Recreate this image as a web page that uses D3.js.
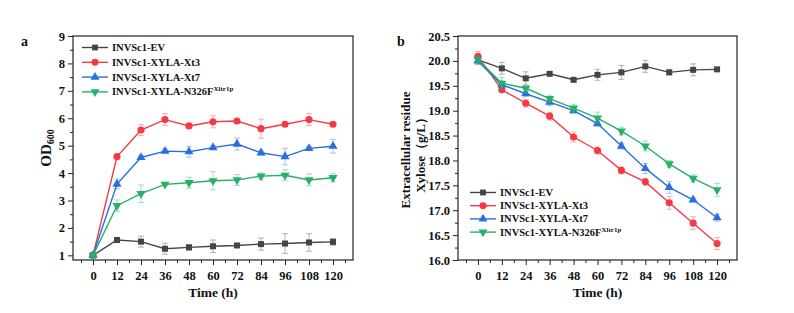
<!DOCTYPE html>
<html>
<head>
<meta charset="utf-8">
<script src="https://cdn.jsdelivr.net/npm/d3@7"></script>
<style>
  body { margin: 0; background: #fff; }
  svg text { font-family: "Times New Roman", "Liberation Serif", serif; font-weight: bold; fill: #111; }
</style>
</head>
<body>
<svg id="chart" width="794" height="313"></svg>
<script>
// time points (h)
let hours = [0, 12, 24, 36, 48, 60, 72, 84, 96, 108, 120];
let xTicks = [0, 12, 24, 36, 48, 60, 72, 84, 96, 108, 120];

let seriesNames = ['INVSc1-EV', 'INVSc1-XYLA-Xt3', 'INVSc1-XYLA-Xt7', 'INVSc1-XYLA-N326F'];
let seriesColors = ['#454545', '#f43b45', '#2a6fe0', '#27b06a'];
let seriesShapes = ['square', 'circle', 'triangle', 'triangleDown'];

// panel a: OD600
let odEV = [1.0, 1.56, 1.50, 1.24, 1.29, 1.33, 1.36, 1.41, 1.43, 1.47, 1.49];
let odEVErr = [0.04, 0.05, 0.2, 0.2, 0.1, 0.23, 0.07, 0.22, 0.36, 0.32, 0.12];
let odXt3 = [1.0, 4.60, 5.57, 5.95, 5.72, 5.87, 5.90, 5.62, 5.78, 5.95, 5.78];
let odXt3Err = [0.04, 0.05, 0.2, 0.22, 0.07, 0.22, 0.05, 0.35, 0.08, 0.22, 0.07];
let odXt7 = [1.0, 3.60, 4.57, 4.80, 4.78, 4.93, 5.06, 4.74, 4.60, 4.90, 4.98];
let odXt7Err = [0.04, 0.18, 0.07, 0.08, 0.2, 0.07, 0.22, 0.08, 0.3, 0.07, 0.25];
let odN326F = [1.0, 2.81, 3.25, 3.59, 3.65, 3.72, 3.75, 3.89, 3.92, 3.75, 3.83];
let odN326FErr = [0.04, 0.21, 0.32, 0.05, 0.2, 0.33, 0.2, 0.12, 0.2, 0.22, 0.15];
let odTicks = [1, 2, 3, 4, 5, 6, 7, 8, 9];

// panel b: extracellular residual xylose (g/L)
let xyEV = [20.02, 19.85, 19.65, 19.74, 19.62, 19.72, 19.77, 19.89, 19.77, 19.82, 19.83];
let xyEVErr = [0.08, 0.12, 0.13, 0.03, 0.03, 0.11, 0.14, 0.12, 0.05, 0.12, 0.03];
let xyXt3 = [20.09, 19.42, 19.15, 18.89, 18.47, 18.20, 17.80, 17.57, 17.15, 16.74, 16.33];
let xyXt3Err = [0.1, 0.05, 0.08, 0.08, 0.1, 0.07, 0.07, 0.07, 0.13, 0.13, 0.12];
let xyXt7 = [20.0, 19.52, 19.34, 19.17, 19.0, 18.74, 18.29, 17.84, 17.46, 17.21, 16.85];
let xyXt7Err = [0.07, 0.05, 0.05, 0.07, 0.05, 0.05, 0.06, 0.1, 0.12, 0.04, 0.07];
let xyN326F = [20.03, 19.55, 19.45, 19.24, 19.05, 18.85, 18.59, 18.29, 17.93, 17.64, 17.41];
let xyN326FErr = [0.05, 0.12, 0.06, 0.07, 0.08, 0.12, 0.08, 0.1, 0.07, 0.07, 0.13];
let xyTicks = [16.0, 16.5, 17.0, 17.5, 18.0, 18.5, 19.0, 19.5, 20.0, 20.5];

let svg = d3.select('#chart');

function marker(shape, size) {
    let sym = {
        square: d3.symbolSquare,
        circle: d3.symbolCircle,
        triangle: d3.symbolTriangle,
        triangleDown: d3.symbolTriangle
    }[shape];
    return d3.symbol().type(sym).size(size)();
}

function drawPanel(opt) {
    let g = svg.append('g');
    let x = d3.scaleLinear().domain([-10, 130]).range([opt.left, opt.right]);
    let y = d3.scaleLinear().domain(opt.yDomain).range([opt.bottom, opt.top]);

    // x axis with major + minor ticks
    g.append('g').attr('transform', `translate(0,${opt.bottom})`)
        .call(d3.axisBottom(x).tickValues(xTicks).tickSize(5).tickPadding(6).tickFormat(d3.format('d')));
    g.append('g').attr('transform', `translate(0,${opt.bottom})`)
        .call(d3.axisBottom(x).tickValues(d3.range(-6, 130, 12)).tickSize(3).tickFormat(''));
    g.append('g').attr('transform', `translate(${opt.left},0)`)
        .call(d3.axisLeft(y).tickValues(opt.yTicks).tickSize(5).tickPadding(3).tickFormat(opt.yFormat));
    g.append('g').attr('transform', `translate(${opt.left},0)`)
        .call(d3.axisLeft(y).tickValues(opt.yMinor).tickSize(3).tickFormat(''));

    g.selectAll('.domain').remove();
    g.selectAll('.tick line').attr('stroke', '#222').attr('stroke-width', 1);
    g.selectAll('.tick text').style('font-size', '12.5px').attr('fill', '#111');

    g.append('rect')
        .attr('x', opt.left).attr('y', opt.top)
        .attr('width', opt.right - opt.left).attr('height', opt.bottom - opt.top)
        .attr('fill', 'none').attr('stroke', '#222').attr('stroke-width', 1.2);

    let line = d3.line().x((d, i) => x(hours[i])).y(d => y(d));

    opt.series.forEach((s, k) => {
        let col = seriesColors[k];
        let sg = g.append('g');
        // error bars
        s.values.forEach((v, i) => {
            let e = s.errors[i];
            let cx = x(hours[i]);
            sg.append('path')
                .attr('d', `M${cx - 3},${y(v + e)}H${cx + 3}M${cx},${y(v + e)}V${y(v - e)}M${cx - 3},${y(v - e)}H${cx + 3}`)
                .attr('stroke', col).attr('stroke-opacity', 0.4).attr('stroke-width', 1).attr('fill', 'none');
        });
        sg.append('path').datum(s.values)
            .attr('d', line)
            .attr('fill', 'none').attr('stroke', col).attr('stroke-width', 1.4);
        sg.selectAll('path.mk').data(s.values).enter().append('path')
            .attr('class', 'mk')
            .attr('d', marker(seriesShapes[k], seriesShapes[k] === 'circle' ? 40 : 36))
            .attr('transform', (d, i) => `translate(${x(hours[i])},${y(d)})` + (seriesShapes[k] === 'triangleDown' ? ' rotate(180)' : ''))
            .attr('fill', col);
    });

    // legend
    let lg = g.append('g');
    seriesNames.forEach((name, k) => {
        let ly = opt.legendY + k * opt.legendGap;
        let col = seriesColors[k];
        lg.append('line')
            .attr('x1', opt.legendX).attr('x2', opt.legendX + 26)
            .attr('y1', ly).attr('y2', ly)
            .attr('stroke', col).attr('stroke-width', 1.4);
        lg.append('path')
            .attr('d', marker(seriesShapes[k], seriesShapes[k] === 'circle' ? 38 : 34))
            .attr('transform', `translate(${opt.legendX + 13},${ly})` + (seriesShapes[k] === 'triangleDown' ? ' rotate(180)' : ''))
            .attr('fill', col);
        let t = lg.append('text')
            .attr('x', opt.legendX + 30).attr('y', ly + 3.5)
            .style('font-size', '10.5px')
            .text(name);
        if (k === 3) {
            t.append('tspan').attr('dy', -4).style('font-size', '7px').text('Xltr1p');
        }
    });

    // x title
    g.append('text')
        .attr('x', (x(0) + x(120)) / 2).attr('y', opt.bottom + 37)
        .attr('text-anchor', 'middle')
        .style('font-size', '13.5px')
        .text('Time (h)');

    // panel letter
    g.append('text')
        .attr('x', opt.letterX).attr('y', 46)
        .style('font-size', '14px')
        .text(opt.letter);

    return g;
}

let gA = drawPanel({
    left: 73, right: 353, top: 36, bottom: 260,
    yDomain: [0.83, 9], yTicks: odTicks, yMinor: d3.range(1.5, 9, 1), yFormat: d3.format('d'),
    series: [
        {values: odEV, errors: odEVErr},
        {values: odXt3, errors: odXt3Err},
        {values: odXt7, errors: odXt7Err},
        {values: odN326F, errors: odN326FErr}
    ],
    legendX: 82, legendY: 47.5, legendGap: 14.8,
    letter: 'a', letterX: 21
});

let yt = gA.append('text')
    .attr('transform', 'translate(51,148) rotate(-90)')
    .attr('text-anchor', 'middle')
    .style('font-size', '15px');
yt.append('tspan').text('OD');
yt.append('tspan').attr('dy', 3).style('font-size', '10px').text('600');

let gB = drawPanel({
    left: 458, right: 737, top: 36, bottom: 260,
    yDomain: [16, 20.5], yTicks: xyTicks, yMinor: d3.range(16.25, 20.5, 0.5), yFormat: d3.format('.1f'),
    series: [
        {values: xyEV, errors: xyEVErr},
        {values: xyXt3, errors: xyXt3Err},
        {values: xyXt7, errors: xyXt7Err},
        {values: xyN326F, errors: xyN326FErr}
    ],
    legendX: 470, legendY: 192.5, legendGap: 13.2,
    letter: 'b', letterX: 397
});

gB.append('text')
    .attr('transform', 'translate(410,150) rotate(-90)')
    .attr('text-anchor', 'middle')
    .style('font-size', '13px')
    .text('Extracellular residue');
gB.append('text')
    .attr('transform', 'translate(425,152) rotate(-90)')
    .attr('text-anchor', 'middle')
    .style('font-size', '13px')
    .text('Xylose（g/L）');
</script>
</body>
</html>
